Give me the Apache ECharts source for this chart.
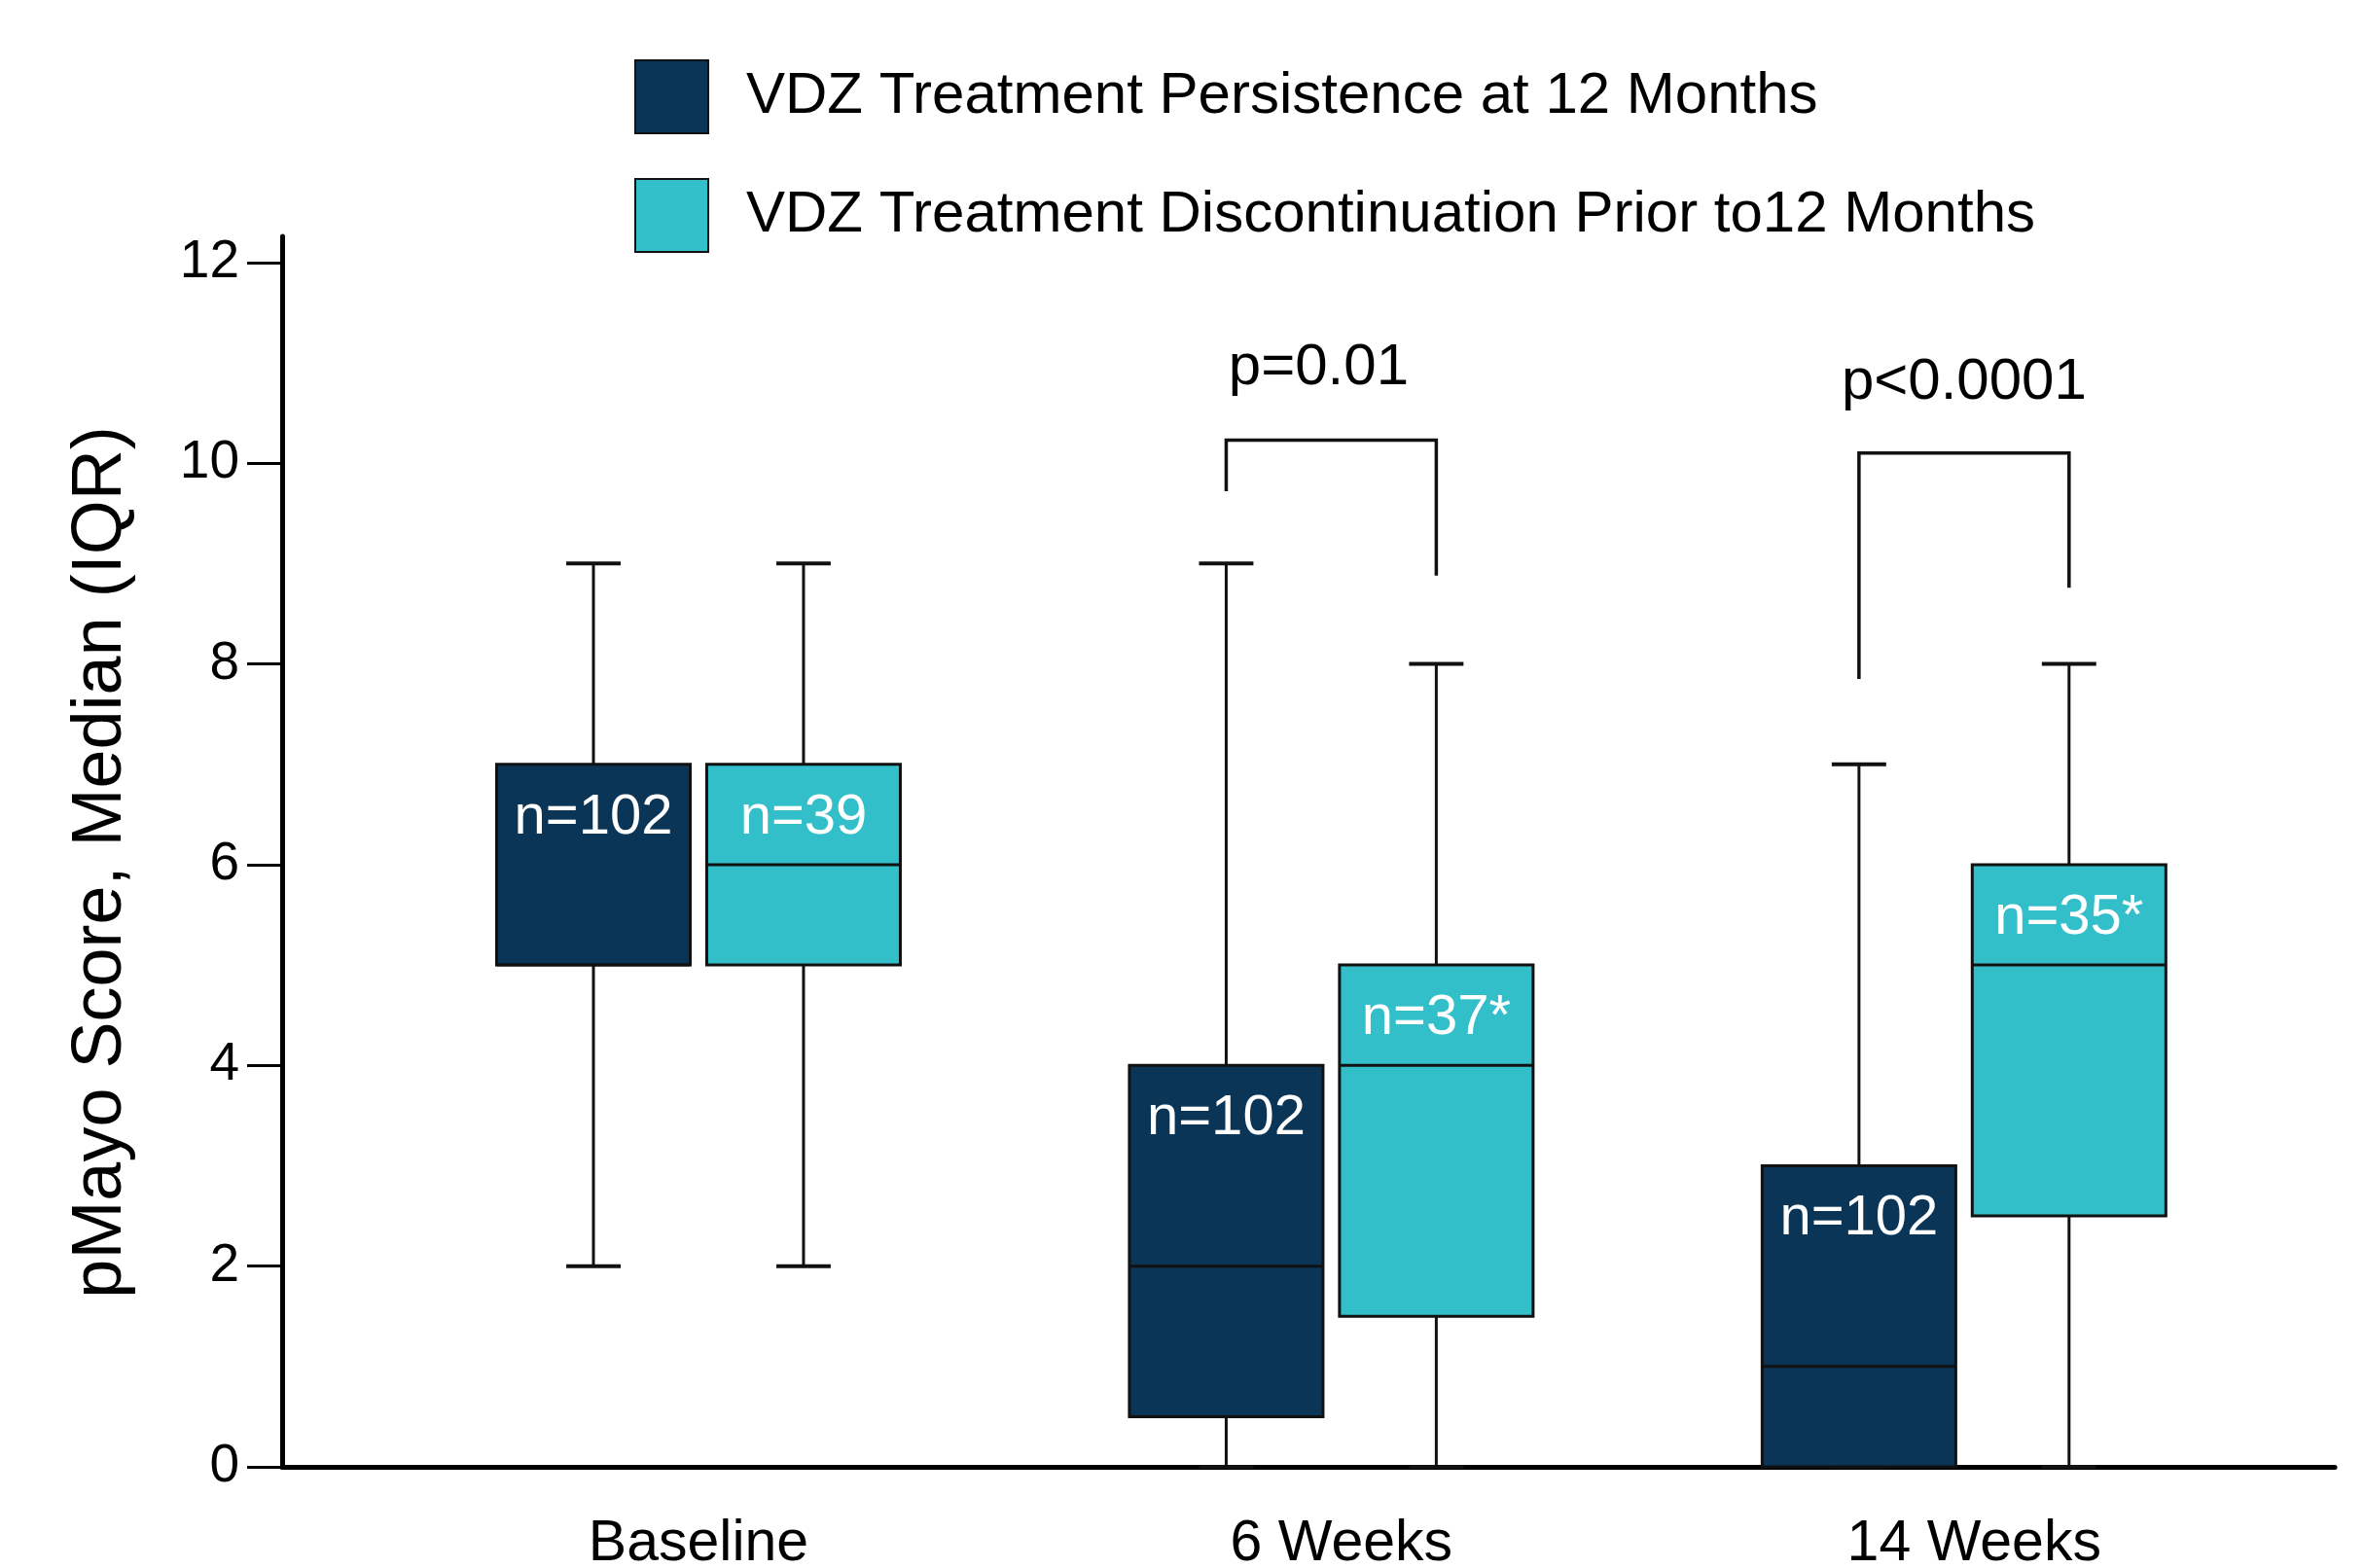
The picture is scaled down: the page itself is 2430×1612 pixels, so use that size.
<!DOCTYPE html>
<html>
<head>
<meta charset="utf-8">
<script src="https://cdn.jsdelivr.net/npm/echarts@6/dist/echarts.min.js"></script>
<style>
html,body{margin:0;padding:0;background:#fff;}
#chart{width:2430px;height:1612px;}
</style>
</head>
<body>
<div id="chart"></div>
<script>
// ---- data ----
const categories = ['Baseline', '6 Weeks', '14 Weeks'];
const seriesNames = ['VDZ Treatment Persistence at 12 Months', 'VDZ Treatment Discontinuation Prior to12 Months'];

const persistMin = [2, 0, 0];
const persistQ1  = [5, 0.5, 0];
const persistMed = [5, 2, 1];
const persistQ3  = [7, 4, 3];
const persistMax = [9, 9, 7];
const persistN   = ['n=102', 'n=102', 'n=102'];

const discMin = [2, 0, 0];
const discQ1  = [5, 1.5, 2.5];
const discMed = [6, 4, 5];
const discQ3  = [7, 5, 6];
const discMax = [9, 8, 8];
const discN   = ['n=39', 'n=37*', 'n=35*'];

const bracketTop   = [null, 10.23, 10.1];
const bracketLeft  = [null, 9.72, 7.85];
const bracketRight = [null, 8.88, 8.76];
const pLabels      = ['', 'p=0.01', 'p<0.0001'];
const pLabelY      = [null, 10.95, 10.8];

const yTicks = [0, 2, 4, 6, 8, 10, 12];

// ---- styling constants ----
const DARK = '#0B3556';
const CYAN = '#32BFC9';
const FONT = '"Liberation Sans", Arial, Helvetica, sans-serif';
const BOX_OFFSET = 0.166;
const BOX_W = 0.306;
const CAP_W = 0.086;
const CAT_LABEL_POS = [1, 2.016, 3.016];
const P_LABEL_SHIFT = [0, -0.02, 0.0];

function buildRows(mins, q1s, meds, q3s, maxs) {
  return categories.map((c, i) => [i + 1, mins[i], q1s[i], meds[i], q3s[i], maxs[i]]);
}

function boxRenderer(offset, color, labels) {
  return function (params, api) {
    const xc = api.value(0) + offset;
    const vMin = api.value(1), vQ1 = api.value(2), vMed = api.value(3), vQ3 = api.value(4), vMax = api.value(5);
    const pMax = api.coord([xc, vMax]);
    const pMin = api.coord([xc, vMin]);
    const pQ1 = api.coord([xc, vQ1]);
    const pQ3 = api.coord([xc, vQ3]);
    const pMed = api.coord([xc, vMed]);
    const half = api.size([BOX_W, 0])[0] / 2;
    const capHalf = api.size([CAP_W, 0])[0] / 2;
    const lineStyle = { stroke: '#111', lineWidth: 3 };
    const x = pQ3[0];
    return {
      type: 'group',
      children: [
        { type: 'line', shape: { x1: x, y1: pMax[1], x2: x, y2: pQ3[1] }, style: lineStyle },
        { type: 'line', shape: { x1: x, y1: pQ1[1], x2: x, y2: pMin[1] }, style: lineStyle },
        { type: 'line', shape: { x1: x - capHalf, y1: pMax[1], x2: x + capHalf, y2: pMax[1] }, style: { stroke: '#111', lineWidth: 4 } },
        { type: 'line', shape: { x1: x - capHalf, y1: pMin[1], x2: x + capHalf, y2: pMin[1] }, style: { stroke: '#111', lineWidth: 4 } },
        { type: 'rect', shape: { x: x - half, y: pQ3[1], width: half * 2, height: pQ1[1] - pQ3[1] },
          style: { fill: color, stroke: '#111', lineWidth: 3 } },
        { type: 'line', shape: { x1: x - half, y1: pMed[1], x2: x + half, y2: pMed[1] }, style: { stroke: '#111', lineWidth: 3 } },
        { type: 'text', style: { x: x, y: pQ3[1] + 55, text: labels[params.dataIndex], fill: '#fff',
            font: '58px ' + FONT, align: 'center', verticalAlign: 'middle' } }
      ]
    };
  };
}

function bracketRenderer(params, api) {
  const i = params.dataIndex;
  if (bracketTop[i] == null) return { type: 'group', children: [] };
  const g = i + 1;
  const xl = g - BOX_OFFSET, xr = g + BOX_OFFSET;
  const tl = api.coord([xl, bracketTop[i]]);
  const tr = api.coord([xr, bracketTop[i]]);
  const bl = api.coord([xl, bracketLeft[i]]);
  const br = api.coord([xr, bracketRight[i]]);
  const pt = api.coord([g + P_LABEL_SHIFT[i], pLabelY[i]]);
  return {
    type: 'group',
    children: [
      { type: 'polyline', shape: { points: [[bl[0], bl[1]], [tl[0], tl[1]], [tr[0], tr[1]], [br[0], br[1]]] },
        style: { stroke: '#111', lineWidth: 3.5, fill: null } },
      { type: 'text', style: { x: pt[0], y: pt[1], text: pLabels[i], fill: '#000',
          font: '60px ' + FONT, align: 'center', verticalAlign: 'middle' } }
    ]
  };
}

const chart = echarts.init(document.getElementById('chart'), null, { renderer: 'canvas' });
chart.setOption({
  backgroundColor: '#fff',
  animation: false,
  textStyle: { fontFamily: FONT },
  legend: {
    orient: 'vertical',
    left: 652,
    top: 61,
    padding: 0,
    itemWidth: 75,
    itemHeight: 75,
    itemGap: 45,
    icon: 'rect',
    selectedMode: false,
    textStyle: { fontSize: 60, color: '#000', fontFamily: FONT, padding: [0, 0, 0, 34] },
    data: [
      { name: seriesNames[0], itemStyle: { color: DARK, borderColor: '#111', borderWidth: 2 } },
      { name: seriesNames[1], itemStyle: { color: CYAN, borderColor: '#111', borderWidth: 2 } }
    ]
  },
  grid: { left: 290, right: 30, top: 243, bottom: 104, containLabel: false, outerBoundsMode: 'none' },
  xAxis: {
    type: 'value',
    min: 0.342,
    max: 3.586,
    axisLine: { show: true, lineStyle: { color: '#000', width: 5 } },
    axisTick: { show: false },
    splitLine: { show: false },
    axisLabel: {
      customValues: CAT_LABEL_POS,
      formatter: v => categories[Math.round(v) - 1],
      fontSize: 59, color: '#000', fontFamily: FONT, margin: 50
    }
  },
  yAxis: {
    type: 'value',
    min: 0,
    max: 12.26,
    name: 'pMayo Score, Median (IQR)',
    nameLocation: 'middle',
    nameGap: 150,
    nameTextStyle: { fontSize: 72, color: '#000', fontFamily: FONT, padding: [0, 22, 0, 0] },
    axisLine: { show: true, lineStyle: { color: '#000', width: 5 } },
    axisTick: { show: true, customValues: yTicks, length: 36, lineStyle: { color: '#000', width: 3 } },
    splitLine: { show: false },
    axisLabel: { customValues: yTicks, fontSize: 55, color: '#000', fontFamily: FONT, margin: 44 }
  },
  series: [
    {
      name: seriesNames[0], type: 'custom', color: DARK,
      renderItem: boxRenderer(-BOX_OFFSET, DARK, persistN),
      data: buildRows(persistMin, persistQ1, persistMed, persistQ3, persistMax),
      encode: { x: 0, y: [1, 2, 3, 4, 5] }, z: 3
    },
    {
      name: seriesNames[1], type: 'custom', color: CYAN,
      renderItem: boxRenderer(BOX_OFFSET, CYAN, discN),
      data: buildRows(discMin, discQ1, discMed, discQ3, discMax),
      encode: { x: 0, y: [1, 2, 3, 4, 5] }, z: 3
    },
    {
      name: 'brackets', type: 'custom',
      renderItem: bracketRenderer,
      data: categories.map((c, i) => [i + 1, bracketTop[i] == null ? 0 : bracketTop[i]]),
      encode: { x: 0, y: 1 }, z: 3
    }
  ]
});
</script>
</body>
</html>
